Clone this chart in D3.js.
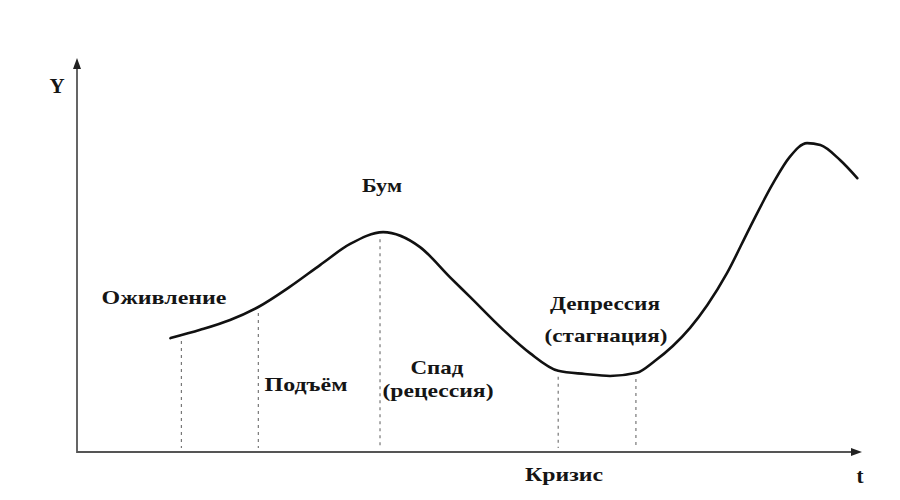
<!DOCTYPE html>
<html><head><meta charset="utf-8">
<script src="https://cdn.jsdelivr.net/npm/d3@7"></script>
<style>html,body{margin:0;padding:0;background:#fff;}svg{display:block;}</style>
</head><body>
<svg id="chart" width="900" height="500"></svg>
<script>
// ---- data ----
const timeValues = [11.9,15.7,19.5,23.1,27.1,31.0,34.8,39.0,43.7,47.5,50.1,54.3,57.7,61.3,64.7,67.9,71.3,73.6,75.9,78.1,80.3,82.8,85.7,88.7,90.8,93.0,94.7,97.2,99.4];
const outputValues = [28.9,31.0,33.5,36.8,41.9,47.5,52.8,55.8,52.0,44.4,39.3,31.0,25.1,20.6,19.8,19.3,20.1,23.1,26.9,31.5,37.3,45.4,56.9,68.3,74.9,78.4,77.9,74.1,69.5];
const phaseBoundaries = [13.3,23.1,38.6,61.3,71.2];
const phaseLabels = ["Оживление","Бум","Подъём","Спад","(рецессия)","Депрессия","(стагнация)","Кризис"];
const axisLabels = ["Y","t"];

// ---- layout (positions kept separate from data) ----
const labelLayout = [
  {x:164,y:304,w:125},{x:382,y:192,w:40},{x:306,y:391,w:83},{x:437,y:374,w:53},
  {x:438,y:397,w:111},{x:605,y:310,w:110},{x:606,y:342,w:123},{x:564,y:481,w:78}
];

const svg = d3.select("#chart");
const x = d3.scaleLinear().domain([0,100]).range([77,862]);
const y = d3.scaleLinear().domain([0,100]).range([452,58]);

const pts = timeValues.map((t,i)=>({t, v: outputValues[i]}));
function interp(t){
  for(let i=0;i<pts.length-1;i++){
    if(t>=pts[i].t && t<=pts[i+1].t){
      const f=(t-pts[i].t)/(pts[i+1].t-pts[i].t);
      return pts[i].v + f*(pts[i+1].v-pts[i].v);
    }
  }
  return pts[0].v;
}

// dashed phase boundaries
svg.selectAll("line.phase").data(phaseBoundaries).join("line")
  .attr("class","phase")
  .attr("x1",d=>x(d)).attr("x2",d=>x(d))
  .attr("y1",d=>y(interp(d))+6).attr("y2",y(0)-4)
  .attr("stroke","#777").attr("stroke-width",1.2).attr("stroke-dasharray","3,4");

// axes
const axisColor = "#555";
svg.append("line").attr("x1",x(0)).attr("x2",x(100)-6).attr("y1",y(0)).attr("y2",y(0))
  .attr("stroke",axisColor).attr("stroke-width",1.8);
svg.append("line").attr("x1",x(0)).attr("x2",x(0)).attr("y1",y(0)+1).attr("y2",y(100)+6)
  .attr("stroke",axisColor).attr("stroke-width",1.8);
// arrowheads
svg.append("path").attr("d",`M${x(100)},${y(0)} L${x(100)-11},${y(0)-4} L${x(100)-11},${y(0)+4} Z`).attr("fill","#222");
svg.append("path").attr("d",`M${x(0)},${y(100)} L${x(0)-4},${y(100)+11} L${x(0)+4},${y(100)+11} Z`).attr("fill","#222");

// curve
const line = d3.line().x(d=>x(d.t)).y(d=>y(d.v)).curve(d3.curveMonotoneX);
svg.append("path").datum(pts).attr("d",line)
  .attr("fill","none").attr("stroke","#111").attr("stroke-width",2.6).attr("stroke-linecap","round");

// labels
const font = "'Liberation Serif','Times New Roman',serif";
svg.selectAll("text.phase").data(phaseLabels).join("text")
  .attr("class","phase")
  .attr("x",(d,i)=>labelLayout[i].x).attr("y",(d,i)=>labelLayout[i].y)
  .attr("text-anchor","middle")
  .attr("textLength",(d,i)=>labelLayout[i].w).attr("lengthAdjust","spacingAndGlyphs")
  .attr("font-family",font).attr("font-weight","bold").attr("font-size",19)
  .attr("fill","#151515").text(d=>d);

svg.append("text").attr("x",57).attr("y",93).attr("text-anchor","middle")
  .attr("font-family",font).attr("font-weight","bold").attr("font-size",21).attr("fill","#151515").text(axisLabels[0]);
svg.append("text").attr("x",860).attr("y",483).attr("text-anchor","middle")
  .attr("font-family",font).attr("font-weight","bold").attr("font-size",21).attr("fill","#151515").text(axisLabels[1]);
</script>
</body></html>
